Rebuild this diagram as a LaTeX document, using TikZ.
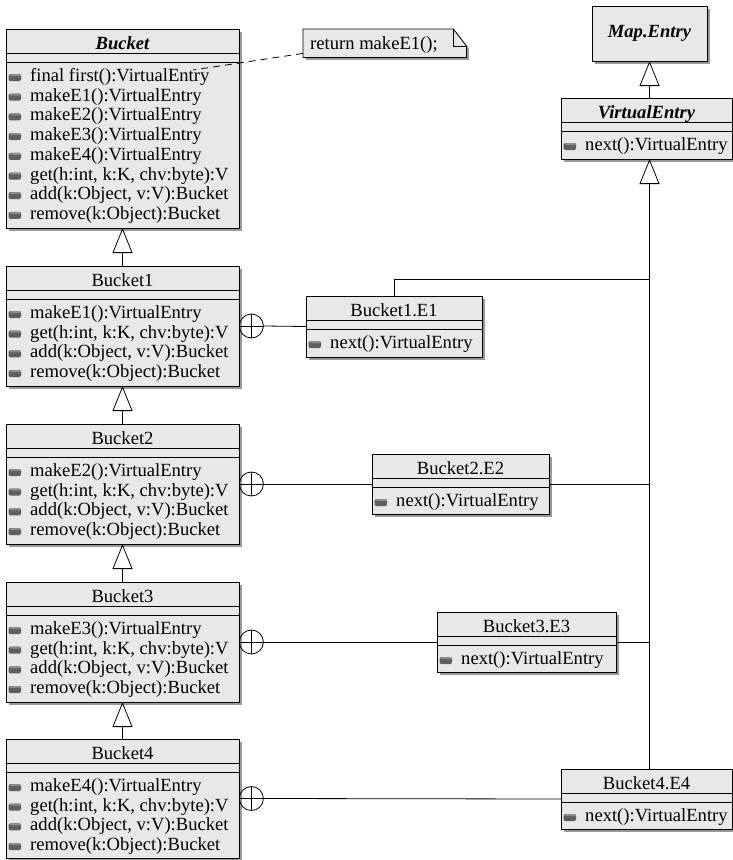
\documentclass[tikz,border=0pt]{standalone}
\usepackage{fontspec}
\setmainfont{Liberation Serif}
\usetikzlibrary{arrows.meta,shadows,calc}
\definecolor{boxfill}{RGB}{232,232,232}
\definecolor{iconfill}{RGB}{95,95,95}
\definecolor{icontop}{RGB}{140,140,140}
\newcommand\fs{\fontsize{18.6}{20}\selectfont}
\newcommand\classbox[6]{%
  \node[umlbox, minimum width=#4, minimum height=#5] (#1) at (#2,#3) {};
  \draw[umlline] ($(#1.north west)+(0,24.5)$) -- ($(#1.north east)+(0,24.5)$);
  \draw[umlline] ($(#1.north west)+(0,33)$) -- ($(#1.north east)+(0,33)$);
  \node[anchor=base, inner sep=0] (#1-t) at ($(#1.north)+(0,20.5)$) {#6};
}
\newcommand\methods[3]{%
  \foreach \mtext [count=\i] in {#3} {
    \pgfmathsetmacro\yy{#2+19.7*(\i-1)}
    \fill[iconfill, rounded corners=1.5pt] ($(#1.north west)+(2.5,\yy-0.5)$) rectangle ($(#1.north west)+(15,\yy-7.5)$);
    \fill[icontop, rounded corners=1pt] ($(#1.north west)+(4,\yy-5.5)$) rectangle ($(#1.north west)+(15,\yy-7.5)$);
    \node[anchor=base west, inner sep=0] (#1-\i) at ($(#1.north west)+(24,\yy)$) {\mtext};
  }
}
\begin{document}
\begin{tikzpicture}[x=1pt,y=-1pt,
  every node/.style={font=\fs},
  umlline/.style={draw=black, line width=0.8pt},
  umlbox/.style={draw=black, fill=boxfill, line width=0.8pt, inner sep=0pt, outer sep=0pt,
    anchor=north west, drop shadow={shadow xshift=2.5pt, shadow yshift=-2.5pt, fill=black!40, opacity=1}},
  gen/.style={umlline, -{Triangle[length=25pt,width=20pt,fill=white,line width=0.8pt]}},
  nest/.style={circle, draw=black, line width=0.8pt, minimum size=24pt, inner sep=0pt, anchor=west}]
\useasboundingbox (0,0) rectangle (733,860);

% Bucket hierarchy
\classbox{b0}{6}{29}{233}{199}{\bfseries\itshape Bucket}
\methods{b0}{52.5}{final first():VirtualEntry, makeE1():VirtualEntry, makeE2():VirtualEntry, makeE3():VirtualEntry, makeE4():VirtualEntry, {get(h:int, k:K, chv:byte):V}, {add(k:Object, v:V):Bucket}, remove(k:Object):Bucket}

\classbox{b1}{6}{266}{233}{120}{Bucket1}
\methods{b1}{52.5}{makeE1():VirtualEntry, {get(h:int, k:K, chv:byte):V}, {add(k:Object, v:V):Bucket}, remove(k:Object):Bucket}

\classbox{b2}{6}{424}{233}{120}{Bucket2}
\methods{b2}{52.5}{makeE2():VirtualEntry, {get(h:int, k:K, chv:byte):V}, {add(k:Object, v:V):Bucket}, remove(k:Object):Bucket}

\classbox{b3}{6}{582}{233}{120}{Bucket3}
\methods{b3}{52.5}{makeE3():VirtualEntry, {get(h:int, k:K, chv:byte):V}, {add(k:Object, v:V):Bucket}, remove(k:Object):Bucket}

\classbox{b4}{6}{739}{233}{119}{Bucket4}
\methods{b4}{52.5}{makeE4():VirtualEntry, {get(h:int, k:K, chv:byte):V}, {add(k:Object, v:V):Bucket}, remove(k:Object):Bucket}

% Map.Entry and VirtualEntry
\node[umlbox, minimum width=115, minimum height=55, font=\fs\bfseries\itshape] (me) at (592,6) {Map.Entry};
\classbox{ve}{561}{98}{171}{61}{\bfseries\itshape VirtualEntry}
\methods{ve}{52.5}{next():VirtualEntry}

% nested entries
\classbox{e1}{306}{296}{176}{61}{Bucket1.E1}
\methods{e1}{52.5}{next():VirtualEntry}
\classbox{e2}{372}{454}{177}{60}{Bucket2.E2}
\methods{e2}{52.5}{next():VirtualEntry}
\classbox{e3}{437}{612}{179}{60}{Bucket3.E3}
\methods{e3}{52.5}{next():VirtualEntry}
\classbox{e4}{561}{769}{171}{60}{Bucket4.E4}
\methods{e4}{52.5}{next():VirtualEntry}

% note
\node[anchor=north west, minimum width=163, minimum height=28, inner sep=0pt] (note) at (303,29) {};
\filldraw[umlline, fill=boxfill, drop shadow={shadow xshift=2.5pt, shadow yshift=-2.5pt, fill=black!40, opacity=1}]
  (note.north west) -- ($(note.north east)+(-13,0)$) -- ($(note.north east)+(0,17)$) -- (note.south east) -- (note.south west) -- cycle;
\draw[umlline] ($(note.north east)+(-13,0)$) -- ($(note.north east)+(-13,17)$) -- ($(note.north east)+(0,17)$);
\node[anchor=base west, inner sep=0pt] (notetext) at ($(note.south west)+(7,-8)$) {return makeE1();};
\coordinate (ntgt) at (193,70);
\draw[umlline, dash pattern=on 7pt off 5pt] ($(note.south west)+(0,-4)$) -- (ntgt);

% generalizations
\draw[gen] (b1.north) -- (b0.south);
\draw[gen] (b2.north) -- (b1.south);
\draw[gen] (b3.north) -- (b2.south);
\draw[gen] (b4.north) -- (b3.south);
\draw[gen] (ve.north -| me.south) -- (me.south);
\draw[gen] (e4.north -| me.south) -- (ve.south -| me.south);
\coordinate (j1) at (649.5,279);
\draw[umlline] (e1.north) |- (j1);
\draw[umlline] (e2.east) -- (e2.east -| me.south);
\draw[umlline] (e3.east) -- (e3.east -| me.south);

% nesting
\foreach \k in {1,2,3,4} {
  \node[nest] (c\k) at (b\k.east) {};
  \draw[umlline] (c\k.north) -- (c\k.south) (c\k.west) -- (c\k.east);
  \draw[umlline] (c\k.east) -- (e\k.west);
}
\end{tikzpicture}
\end{document}
